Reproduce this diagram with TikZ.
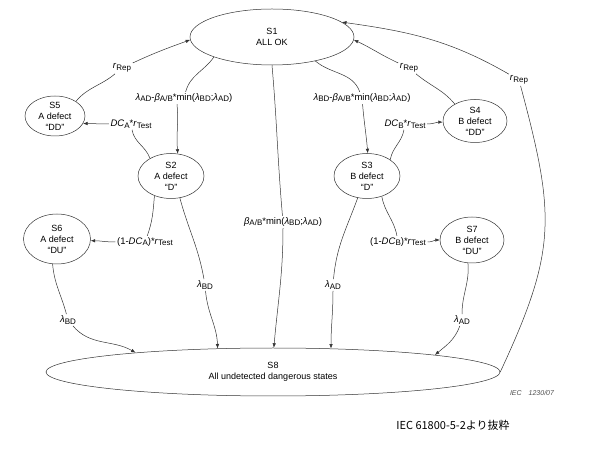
\documentclass[tikz,border=0pt]{standalone}
\usepackage{fontspec}
\setmainfont{Liberation Sans}
\newfontfamily\jpfont{Noto Sans CJK JP}
\usetikzlibrary{shapes.geometric,arrows.meta}
\newcommand\sbx[1]{\raisebox{-0.3ex}{\fontsize{8}{8}\selectfont #1}}
\newcommand\lmb{\textit{λ}}
\newcommand\bta{\textit{β}}
\begin{document}
\begin{tikzpicture}[x=1pt,y=1pt,
  st/.style={draw=black!80, line width=0.5pt, ellipse, align=center, inner sep=0pt,
    font=\fontsize{9}{11}\selectfont},
  lab/.style={inner sep=1.5pt, font=\fontsize{9.5}{10}\selectfont},
  ln/.style={draw=black!80, line width=0.5pt},
  arr/.style={ln, -{Latex[length=4.5pt,width=3.5pt]}}]
\useasboundingbox (0,0) rectangle (600,450);
% states
\node[st, minimum width=164, minimum height=56] (S1) at (272,413) {S1\\ALL OK};
\node[st, minimum width=60, minimum height=36] (S5) at (55,334) {S5\\A defect\\“DD”};
\node[st, minimum width=66, minimum height=45] (S2) at (171,274) {S2\\A defect\\“D”};
\node[st, minimum width=66, minimum height=45] (S3) at (367,274) {S3\\B defect\\“D”};
\node[st, minimum width=64, minimum height=43] (S4) at (475,329) {S4\\B defect\\“DD”};
\node[st, minimum width=67, minimum height=50] (S6) at (57,211) {S6\\A defect\\“DU”};
\node[st, minimum width=64, minimum height=46] (S7) at (472,210) {S7\\B defect\\“DU”};
\node[st, minimum width=454, minimum height=48] (S8) at (273,78) {S8\\All undetected dangerous states};
% labels
\node[lab] (lRepA) at (122,382) {\textit{r}\sbx{Rep}};
\node[lab] (lA) at (184,352) {\lmb\sbx{AD}-\bta\sbx{A/B}*min(\lmb\sbx{BD};\lmb\sbx{AD})};
\node[lab] (lDCA) at (131,326) {\textit{DC}\sbx{A}*\textit{r}\sbx{Test}};
\node[lab] (lBeta) at (283,228) {\bta\sbx{A/B}*min(\lmb\sbx{BD};\lmb\sbx{AD})};
\node[lab] (lBD2) at (205,165) {\lmb\sbx{BD}};
\node[lab] (l1mDCA) at (145,208) {(1-\textit{DC}\sbx{A})*\textit{r}\sbx{Test}};
\node[lab] (lBD6) at (68,130) {\lmb\sbx{BD}};
\node[lab] (lB) at (362,352) {\lmb\sbx{BD}-\bta\sbx{A/B}*min(\lmb\sbx{BD};\lmb\sbx{AD})};
\node[lab] (lRepB) at (409,382) {\textit{r}\sbx{Rep}};
\node[lab] (lDCB) at (405,326) {\textit{DC}\sbx{B}*\textit{r}\sbx{Test}};
\node[lab] (lAD3) at (333,165) {\lmb\sbx{AD}};
\node[lab] (l1mDCB) at (398,208) {(1-\textit{DC}\sbx{B})*\textit{r}\sbx{Test}};
\node[lab] (lAD7) at (462,130) {\lmb\sbx{AD}};
\node[lab] (lRepC) at (519,370) {\textit{r}\sbx{Rep}};
% footer texts
\node[font=\fontsize{7}{8}\selectfont\itshape, text=black!70] (iec) at (532,57) {IEC\hspace{7pt}1230/07};
\node[font=\fontsize{11}{12}\selectfont\jpfont] (src) at (453,25) {IEC 61800-5-2より抜粋};
% edges left
\draw[ln] (S5.35) to[out=50,in=220] (lRepA);
\draw[arr] (lRepA) to[out=25,in=200] (S1.182);
\draw[ln] (S1.199) to[out=235,in=75] (lA);
\draw[arr] ([xshift=-7pt]lA.south) to[out=-85,in=95] (S2.73);
\draw[ln] (S2.140) to[out=110,in=-80] (lDCA);
\draw[arr] (lDCA) to[out=180,in=0] (S5.-15);
\draw[ln] (S1.south) to[out=-85,in=95] (lBeta);
\draw[arr] (lBeta) to[out=-90,in=85] (S8.88);
\draw[ln] (S2.-68) to[out=-75,in=100] (lBD2);
\draw[arr] (lBD2) to[out=-85,in=92] (S8.157);
\draw[ln] (S2.230) to[out=-95,in=70] (l1mDCA);
\draw[arr] (l1mDCA) to[out=180,in=0] (S6.-3);
\draw[ln] (S6.-100) to[out=-85,in=105] (lBD6);
\draw[arr] (lBD6) to[out=-50,in=150] (S8.172);
% edges right
\draw[ln] (S4.140) to[out=130,in=-40] (lRepB);
\draw[arr] (lRepB) to[out=155,in=-25] (S1.-2);
\draw[ln] (S1.-29) to[out=-40,in=110] (lB);
\draw[arr] (lB) to[out=-85,in=95] (S3.88);
\draw[ln] (S3.35) to[out=80,in=-100] (lDCB);
\draw[arr] (lDCB) to[out=0,in=180] (S4.182);
\draw[ln] (S3.-113) to[out=-110,in=85] (lAD3);
\draw[arr] (lAD3) to[out=-90,in=90] (S8.22);
\draw[ln] (S3.-54) to[out=-80,in=100] (l1mDCB);
\draw[arr] (l1mDCB) to[out=0,in=180] (S7.180);
\draw[ln] (S7.-100) to[out=-85,in=90] (lAD7);
\draw[arr] (lAD7) to[out=-110,in=40] (S8.6.5);
\draw[ln] (S8.east) to[out=65,in=-75,looseness=1.2] (lRepC);
\draw[arr] (lRepC) to[out=150,in=-8] (S1.12);
\end{tikzpicture}
\end{document}
